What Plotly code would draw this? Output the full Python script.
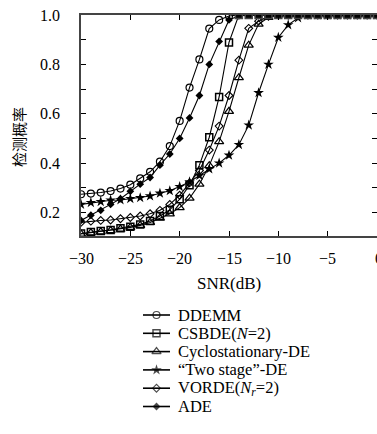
import plotly.graph_objects as go

snr = [-30, -29, -28, -27, -26, -25, -24, -23, -22, -21, -20, -19, -18, -17, -16, -15,
       -14, -13, -12, -11, -10, -9, -8, -7, -6, -5, -4, -3, -2, -1, 0]

ddemm = [0.274, 0.277, 0.281, 0.287, 0.297, 0.313, 0.338, 0.365, 0.406, 0.469,
         0.571, 0.706, 0.820, 0.945, 0.980, 0.996] + [1.0] * 15
csbde = [0.115, 0.121, 0.125, 0.129, 0.136, 0.142, 0.152, 0.166, 0.186, 0.211,
         0.254, 0.311, 0.392, 0.505, 0.668, 0.889] + [1.0] * 15
cyclo = [0.113, 0.118, 0.122, 0.127, 0.133, 0.140, 0.148, 0.160, 0.177, 0.195,
         0.220, 0.258, 0.315, 0.390, 0.487, 0.610, 0.746, 0.878, 0.963, 0.990] + [1.0] * 11
twostage = [0.233, 0.240, 0.244, 0.250, 0.251, 0.256, 0.260, 0.267, 0.278, 0.288,
            0.305, 0.324, 0.350, 0.376, 0.400, 0.432, 0.475, 0.554, 0.685, 0.800,
            0.909, 0.960, 0.988] + [1.0] * 8
vorde = [0.160, 0.165, 0.168, 0.170, 0.175, 0.180, 0.186, 0.195, 0.209, 0.233,
         0.270, 0.320, 0.370, 0.453, 0.550, 0.674, 0.817, 0.946, 0.975, 0.995] + [1.0] * 11
ade = [0.168, 0.189, 0.209, 0.233, 0.256, 0.286, 0.315, 0.342, 0.392, 0.437,
       0.500, 0.583, 0.674, 0.800, 0.893, 0.980, 0.997] + [1.0] * 14

names = ["DDEMM", "CSBDE(<i>N</i>=2)", "Cyclostationary-DE", "\u201cTwo stage\u201d-DE",
         "VORDE(<i>N<sub>r</sub></i>=2)", "ADE"]
xticks = [-30, -25, -20, -15, -10, -5, 0]
xtick_labels = ["\u221230", "\u221225", "\u221220", "\u221215", "\u221210", "\u22125", "0"]
yticks = [0.2, 0.4, 0.6, 0.8, 1.0]
ytick_labels = ["0.2", "0.4", "0.6", "0.8", "1.0"]
x_title = "SNR(dB)"
y_title = "检测概率"

serif = "Liberation Serif, Times New Roman, serif"
W, H = 377, 434

# pixel layout of the plot frame
PL, PR, PT, PB = 81, 377, 15, 236


def py(p):
    """pixel row -> paper y"""
    return (H - p) / H


def px(p):
    """pixel column -> paper x"""
    return p / W


markers = {
    0: dict(symbol="circle-open", size=7, color="black", line=dict(width=1.2)),
    1: dict(symbol="square-open", size=7, color="black", line=dict(width=1.5)),
    2: dict(symbol="triangle-up-open", size=8, color="black", line=dict(width=1.2)),
    3: dict(symbol="star", size=8, color="black", line=dict(width=0)),
    4: dict(symbol="diamond-open", size=6, color="black", line=dict(width=1.1)),
    5: dict(symbol="diamond", size=6, color="black", line=dict(width=0)),
}
series = {0: ddemm, 1: csbde, 2: cyclo, 3: twostage, 4: vorde, 5: ade}

fig = go.Figure()
for idx in [0, 2, 3, 4, 5, 1]:
    mk = dict(markers[idx])
    if idx == 1:
        mk["symbol"] = ["square" if v >= 0.999 else "square-open" for v in csbde]
    fig.add_trace(go.Scatter(
        x=snr, y=series[idx], mode="lines+markers", name=names[idx], showlegend=False,
        line=dict(color="black", width=1.1), marker=mk, xaxis="x", yaxis="y",
    ))

ann = []
# tick labels
for v, t in zip(xticks, xtick_labels):
    last = v == xticks[-1]
    ann.append(dict(text=t, xref="x", yref="paper", x=v, y=py(258),
                    xanchor="left" if last else "center", xshift=-4 if last else 0,
                    yanchor="middle", showarrow=False,
                    font=dict(family=serif, size=16, color="black")))
for v, t in zip(yticks, ytick_labels):
    ann.append(dict(text=t, xref="paper", yref="y", x=px(62), y=v, xanchor="right",
                    yanchor="middle", showarrow=False,
                    font=dict(family=serif, size=16, color="black")))
# axis titles
ann.append(dict(text=x_title, xref="paper", yref="paper", x=px(229), y=py(283),
                xanchor="center", yanchor="middle", showarrow=False,
                font=dict(family=serif, size=17, color="black")))
ann.append(dict(text=y_title, xref="paper", yref="paper", x=px(18), y=py(137),
                xanchor="center", yanchor="middle", showarrow=False, textangle=-90,
                font=dict(family="Noto Sans CJK SC", size=15, color="black")))

# hand-made legend below the plot
row0, rowstep = 315, 18.3
for i in range(6):
    ry = row0 + rowstep * i
    mk = dict(markers[i])
    mk["size"] = [0, mk["size"], 0]
    fig.add_trace(go.Scatter(
        x=[0, 0.5, 1], y=[ry, ry, ry], mode="lines+markers", showlegend=False,
        line=dict(color="black", width=1.6), marker=mk, xaxis="x2", yaxis="y2",
        hoverinfo="skip",
    ))
    ann.append(dict(text=names[i], xref="paper", yref="y2", x=px(177), y=ry,
                    xanchor="left", yanchor="middle", showarrow=False, borderpad=0,
                    font=dict(family=serif, size=16.5, color="black")))

fig.update_layout(
    template="none",
    width=W, height=H,
    margin=dict(l=0, r=0, t=0, b=0, autoexpand=False),
    paper_bgcolor="white", plot_bgcolor="white",
    font=dict(family=serif, size=16, color="black"),
    showlegend=False,
    hovermode=False,
    annotations=ann,
    xaxis=dict(
        domain=[px(PL), px(PR)], range=[-30, 0], tickvals=xticks, automargin=False,
        showticklabels=False,
        ticks="inside", ticklen=5, tickcolor="black", mirror="ticks",
        showline=True, linecolor="#444", linewidth=1.5, showgrid=False, zeroline=False,
    ),
    yaxis=dict(
        domain=[py(PB), py(PT)], range=[0.105, 1.0], tickvals=yticks, automargin=False,
        showticklabels=False,
        ticks="inside", ticklen=5, tickcolor="black", mirror="ticks",
        minor=dict(dtick=0.1, tick0=0, ticks="inside", ticklen=5, tickcolor="black"),
        showline=True, linecolor="#444", linewidth=1.5, showgrid=False, zeroline=False,
    ),
    xaxis2=dict(domain=[px(143), px(170)], range=[0, 1], visible=False, fixedrange=True,
                automargin=False),
    yaxis2=dict(domain=[py(420), py(305)], range=[420, 305], visible=False,
                fixedrange=True, automargin=False),
)

fig.write_html("out.html", config={"displayModeBar": False},
               post_script="document.body.style.margin='0';")
